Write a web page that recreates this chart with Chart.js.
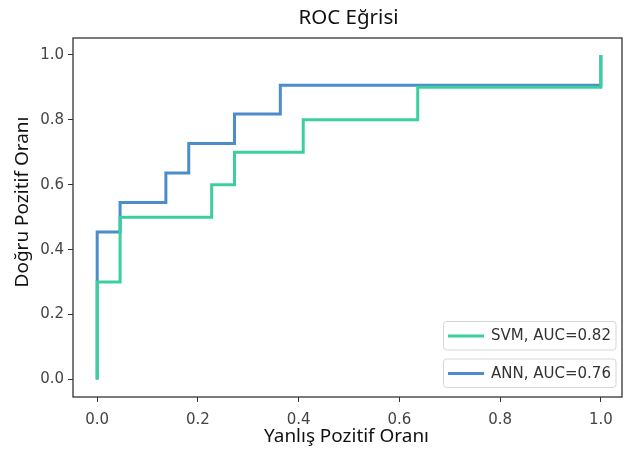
<!DOCTYPE html>
<html lang="tr">
<head>
<meta charset="UTF-8">
<title>ROC Eğrisi</title>
<script src="https://cdn.jsdelivr.net/npm/chart.js@4.4.2/dist/chart.umd.min.js"></script>
<style>
  html, body { margin: 0; padding: 0; background: #fff; }
  #wrap { width: 624px; height: 452px; }
</style>
</head>
<body>
<div id="wrap"><canvas id="roc" width="624" height="452"></canvas></div>
<script>
// ROC noktaları (köşeler dahil)
const svmFpr = [0, 0, 0.0455, 0.0455, 0.2273, 0.2273, 0.2727, 0.2727, 0.4091, 0.4091, 0.6364, 0.6364, 1.0, 1.0];
const svmTpr = [0, 0.3, 0.3, 0.5, 0.5, 0.6, 0.6, 0.7, 0.7, 0.8, 0.8, 0.9, 0.9, 1.0];
const annFpr = [0, 0, 0.0455, 0.0455, 0.1364, 0.1364, 0.1818, 0.1818, 0.2727, 0.2727, 0.3636, 0.3636, 1.0, 1.0];
const annTpr = [0, 0.4545, 0.4545, 0.5455, 0.5455, 0.6364, 0.6364, 0.7273, 0.7273, 0.8182, 0.8182, 0.9061, 0.9061, 1.0];
const seriesLabels = ['SVM, AUC=0.82', 'ANN, AUC=0.76'];
const xTicks = [0, 0.2, 0.4, 0.6, 0.8, 1.0];
const yTicks = [0, 0.2, 0.4, 0.6, 0.8, 1.0];

const green = '#3ccf9e';
const blue = '#4a8dca';
const tickFont = { family: 'DejaVu Sans', size: 15 };
const seriesColors = [green, blue];

const toPoints = (xs, ys) => xs.map((x, i) => ({ x: x, y: ys[i] }));

// yazıyı verilen genişliğe sığdır
function fitText(ctx, text, width, family) {
  ctx.font = '20px ' + family;
  const size = 20 * width / ctx.measureText(text).width;
  ctx.font = size.toFixed(2) + 'px ' + family;
}

// başlık, eksen adları, çerçeve ve legend
const extras = {
  id: 'extras',
  afterDraw(chart) {
    const { ctx, chartArea: a } = chart;
    ctx.save();
    // çerçeve
    ctx.strokeStyle = '#333';
    ctx.lineWidth = 1.3;
    ctx.strokeRect(a.left, a.top, a.right - a.left, a.bottom - a.top);

    const fam = '"Noto Sans"';
    ctx.fillStyle = '#111';
    ctx.textAlign = 'center';
    ctx.textBaseline = 'middle';
    const cx = (a.left + a.right) / 2;
    fitText(ctx, 'ROC Eğrisi', 100, fam);
    ctx.fillText('ROC Eğrisi', cx + 1, 18);
    fitText(ctx, 'Yanlış Pozitif Oranı', 165, fam);
    ctx.fillText('Yanlış Pozitif Oranı', cx - 1, 437);
    ctx.save();
    ctx.translate(23, 202);
    ctx.rotate(-Math.PI / 2);
    fitText(ctx, 'Doğru Pozitif Oranı', 171, fam);
    ctx.fillText('Doğru Pozitif Oranı', 0, 0);
    ctx.restore();

    // legend kutuları
    const boxes = [321.5, 359];
    seriesLabels.forEach((label, i) => {
      const top = boxes[i];
      ctx.beginPath();
      ctx.roundRect(443.5, top, 172.5, 28.5, 3);
      ctx.fillStyle = 'rgba(255,255,255,0.85)';
      ctx.fill();
      ctx.strokeStyle = '#d6d6d6';
      ctx.lineWidth = 1;
      ctx.stroke();
      ctx.beginPath();
      ctx.moveTo(448, top + 14.5);
      ctx.lineTo(484, top + 14.5);
      ctx.strokeStyle = seriesColors[i];
      ctx.lineWidth = 3;
      ctx.stroke();
      ctx.fillStyle = '#333';
      ctx.font = '15px "DejaVu Sans"';
      ctx.textAlign = 'left';
      ctx.fillText(label, 491, top + 15);
    });
    ctx.restore();
  }
};

new Chart(document.getElementById('roc'), {
  type: 'scatter',
  data: {
    datasets: [
      { label: seriesLabels[1], data: toPoints(annFpr, annTpr), borderColor: blue, backgroundColor: blue,
        showLine: true, borderWidth: 3, pointRadius: 0, order: 2 },
      { label: seriesLabels[0], data: toPoints(svmFpr, svmTpr), borderColor: green, backgroundColor: green,
        showLine: true, borderWidth: 3, pointRadius: 0, order: 1 }
    ]
  },
  options: {
    responsive: false,
    animation: false,
    layout: { padding: { top: 38, right: 2, left: 0, bottom: 0 } },
    plugins: { legend: { display: false }, title: { display: false }, tooltip: { enabled: false } },
    scales: {
      x: {
        type: 'linear', min: -0.048, max: 1.042,
        afterBuildTicks: s => { s.ticks = xTicks.map(v => ({ value: v })); },
        afterFit: s => { s.height = 55; },
        grid: { drawOnChartArea: false, drawTicks: true, tickLength: 5, color: '#333', lineWidth: 1 },
        border: { display: false },
        ticks: { font: tickFont, color: '#444', padding: 9, maxRotation: 0,
                 callback: v => v.toFixed(1) }
      },
      y: {
        type: 'linear', min: -0.054, max: 1.052,
        afterBuildTicks: s => { s.ticks = yTicks.map(v => ({ value: v })); },
        afterFit: s => { s.width = 73; },
        grid: { drawOnChartArea: false, drawTicks: true, tickLength: 5, color: '#333', lineWidth: 1 },
        border: { display: false },
        ticks: { font: tickFont, color: '#444', padding: 4, callback: v => v.toFixed(1) }
      }
    }
  },
  plugins: [extras]
});
</script>
</body>
</html>
